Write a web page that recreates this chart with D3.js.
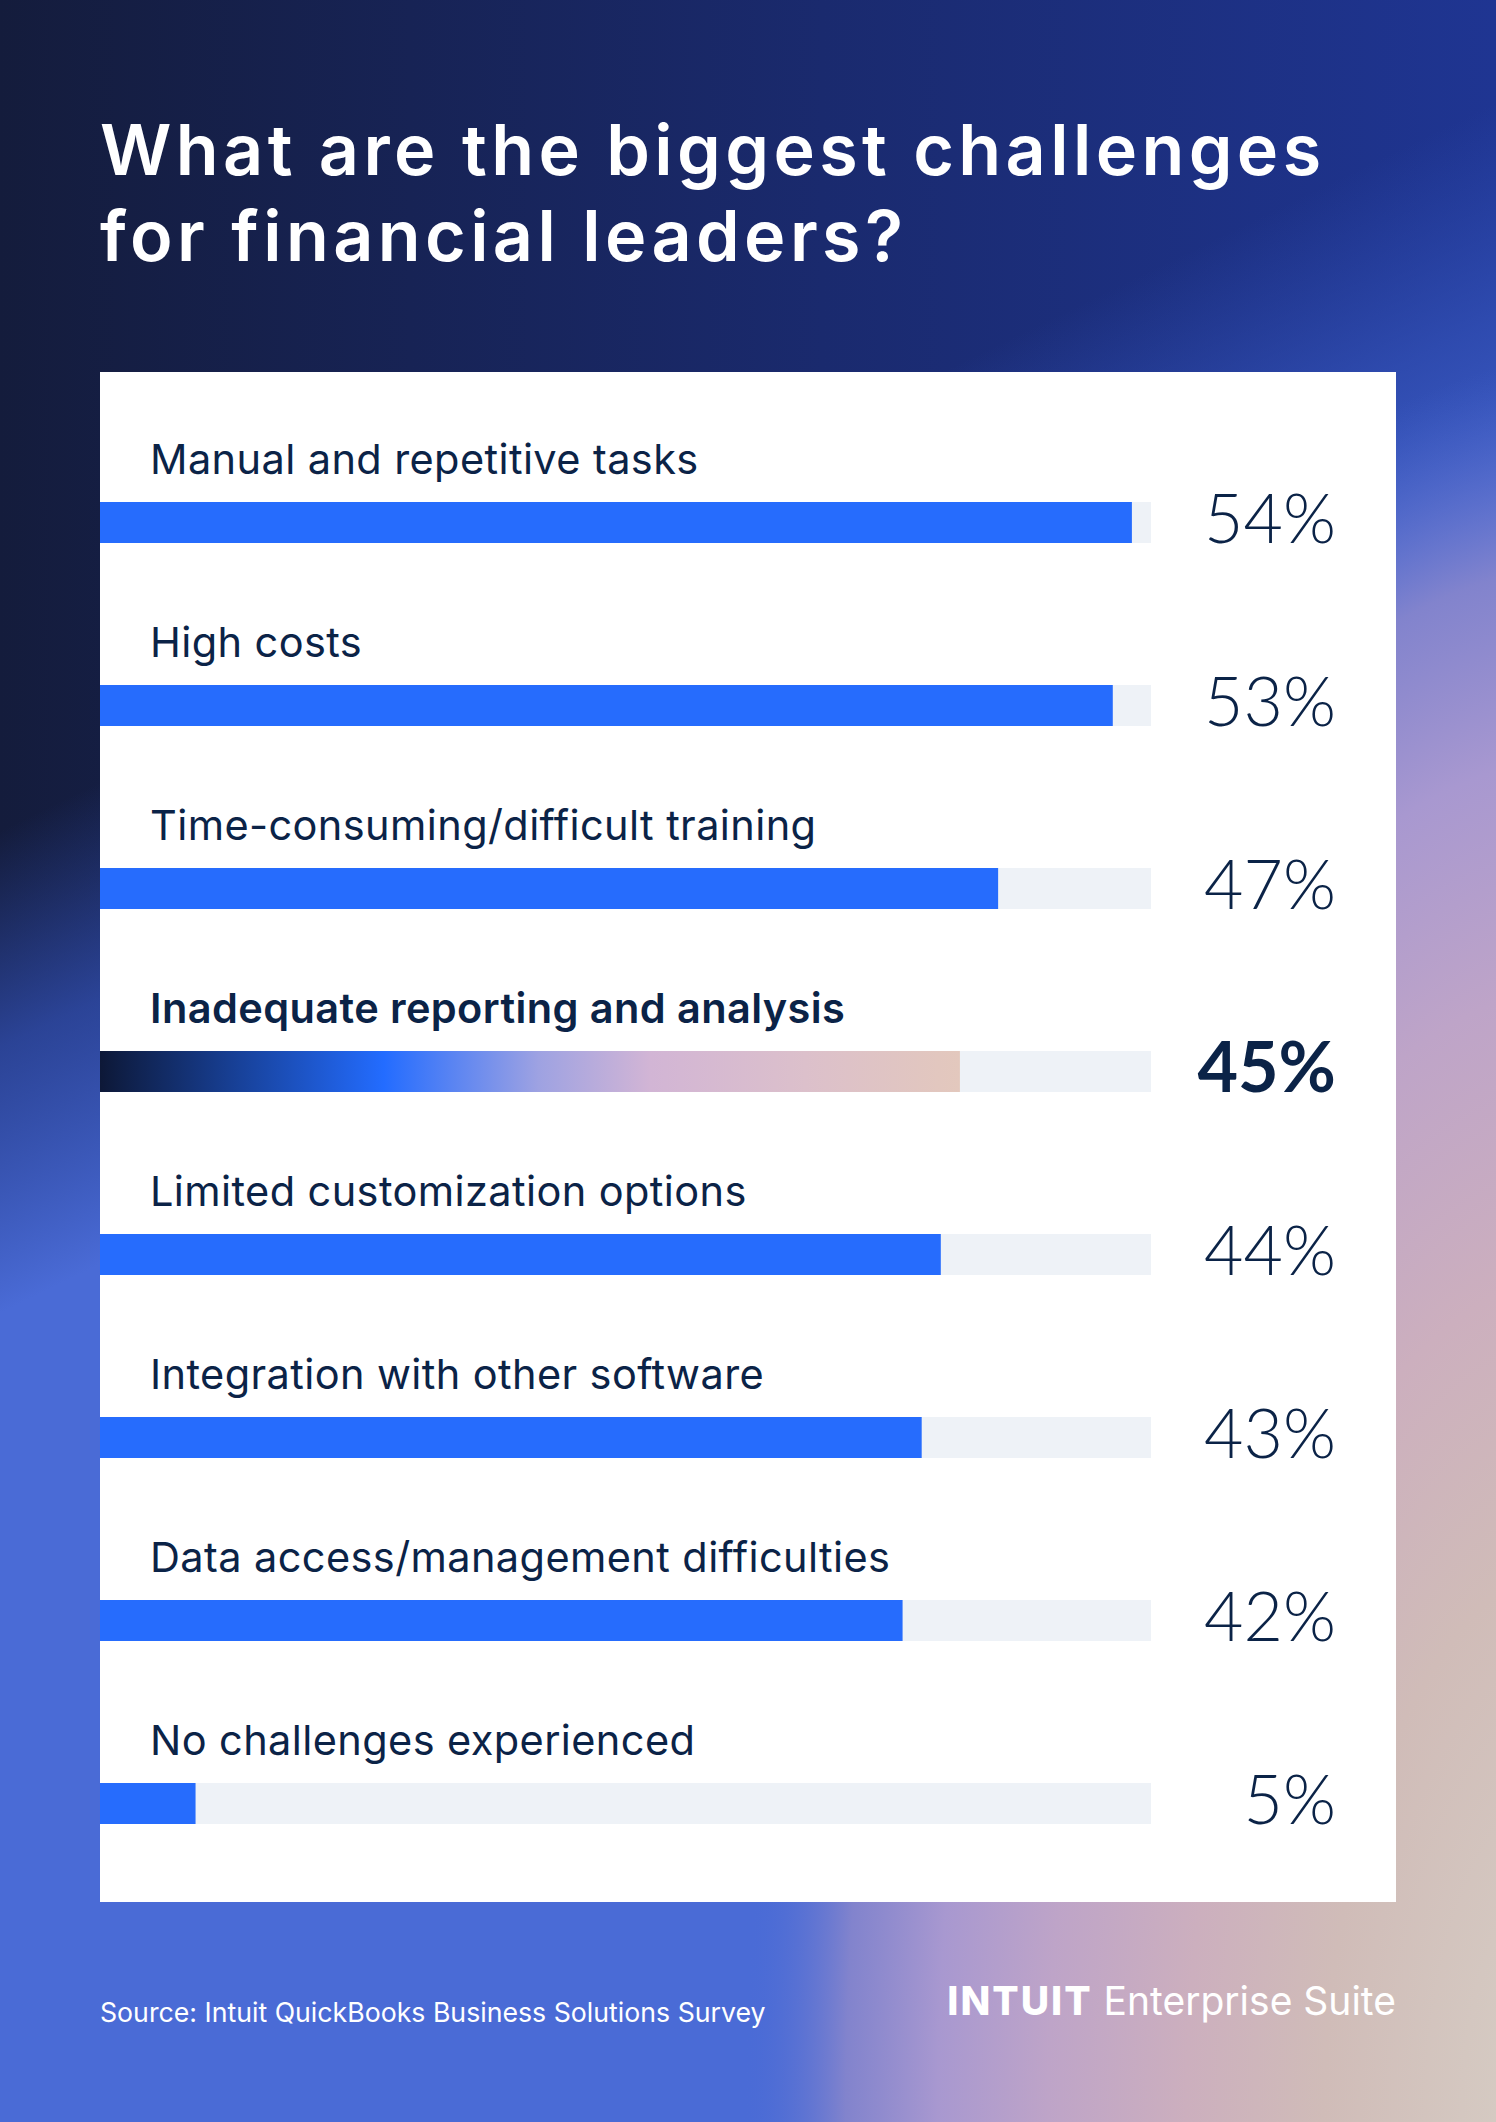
<!DOCTYPE html>
<html>
<head>
<meta charset="utf-8">
<script src="https://cdn.jsdelivr.net/npm/d3@7"></script>
<style>
  html, body { margin: 0; padding: 0; background: #141c3c; }
  svg { display: block; }
</style>
</head>
<body>
<div id="chart"></div>
<script>
// survey results
const categories = [
  "Manual and repetitive tasks",
  "High costs",
  "Time-consuming/difficult training",
  "Inadequate reporting and analysis",
  "Limited customization options",
  "Integration with other software",
  "Data access/management difficulties",
  "No challenges experienced"
];
const values = [54, 53, 47, 45, 44, 43, 42, 5];
const highlighted = ["Inadequate reporting and analysis"];
const titleLines = ["What are the biggest challenges", "for financial leaders?"];
const sourceText = "Source: Intuit QuickBooks Business Solutions Survey";

const width = 1496, height = 2122;
const ink = "#0b2347";
const barBlue = "#266cfd";
const trackGrey = "#eef2f7";
const font = "Inter, 'Open Sans', sans-serif";
const numFont = "Lato, 'Open Sans', sans-serif";

const svg = d3.select("#chart")
  .append("svg")
  .attr("width", width)
  .attr("height", height);

const defs = svg.append("defs");

// background: dark top-left -> blue, with a warm glow from the bottom right
const baseGrad = defs.append("linearGradient")
  .attr("id", "bgBase")
  .attr("gradientUnits", "userSpaceOnUse")
  .attr("x1", 0).attr("y1", 0).attr("x2", width).attr("y2", 0);
baseGrad.append("stop").attr("offset", 0).attr("stop-color", "#141c3c");
baseGrad.append("stop").attr("offset", 0.55).attr("stop-color", "#1a2a6e");
baseGrad.append("stop").attr("offset", 1).attr("stop-color", "#1f3592");

const blueGrad = defs.append("linearGradient")
  .attr("id", "bgBlue")
  .attr("gradientUnits", "userSpaceOnUse")
  .attr("x1", 330).attr("y1", 670).attr("x2", 520).attr("y2", 1060);
blueGrad.append("stop").attr("offset", 0).attr("stop-color", "#3150b8").attr("stop-opacity", 0);
blueGrad.append("stop").attr("offset", 0.45).attr("stop-color", "#3554bc").attr("stop-opacity", 0.7);
blueGrad.append("stop").attr("offset", 1).attr("stop-color", "#4a6bd6").attr("stop-opacity", 1);

const warmGrad = defs.append("radialGradient")
  .attr("id", "bgWarm")
  .attr("gradientUnits", "userSpaceOnUse")
  .attr("cx", 0).attr("cy", 0).attr("r", 1)
  .attr("gradientTransform", "translate(1600,2122) scale(920,1900)");
[
  [0, "#d8d2c8", 1],
  [0.3, "#d0bcb8", 1],
  [0.45, "#ccafbe", 1],
  [0.6, "#bea4c8", 1],
  [0.72, "#a898d0", 1],
  [0.82, "#8886cc", 0.9],
  [0.93, "#4a6bd6", 0]
].forEach(([o, c, a]) => {
  warmGrad.append("stop").attr("offset", o).attr("stop-color", c).attr("stop-opacity", a);
});

const hiGrad = defs.append("linearGradient")
  .attr("id", "hiBar")
  .attr("x1", 0).attr("y1", 0).attr("x2", 1).attr("y2", 0);
[
  [0, "#0d1837"],
  [0.33, "#236cff"],
  [0.51, "#9ea2e2"],
  [0.64, "#d2b5d5"],
  [0.82, "#dcc0cb"],
  [1, "#e3c8bd"]
].forEach(([o, c]) => hiGrad.append("stop").attr("offset", o).attr("stop-color", c));

svg.append("rect").attr("width", width).attr("height", height).attr("fill", "url(#bgBase)");
svg.append("rect").attr("width", width).attr("height", height).attr("fill", "url(#bgBlue)");
svg.append("rect").attr("width", width).attr("height", height).attr("fill", "url(#bgWarm)");

// title, one text per line
svg.append("g")
  .selectAll("text")
  .data(titleLines)
  .join("text")
  .attr("x", 100)
  .attr("y", (d, i) => 175 + i * 86)
  .attr("font-family", font)
  .attr("font-weight", 600)
  .attr("font-size", 70)
  .attr("letter-spacing", 4.4)
  .attr("fill", "#ffffff")
  .text(d => d);

// white card
const panel = { x: 100, y: 372, w: 1296, h: 1530 };
svg.append("rect")
  .attr("x", panel.x).attr("y", panel.y)
  .attr("width", panel.w).attr("height", panel.h)
  .attr("fill", "#ffffff");

const x = d3.scaleLinear().domain([0, 55]).range([100, 1151]);
const y = d3.scaleBand()
  .domain(categories)
  .range([502, 1824])
  .paddingInner(142 / 183)
  .paddingOuter(0);

const rows = svg.append("g")
  .selectAll("g")
  .data(categories.map((c, i) => ({ name: c, value: values[i], hi: highlighted.includes(c) })))
  .join("g");

rows.append("rect")
  .attr("x", x(0))
  .attr("y", d => y(d.name))
  .attr("width", x(55) - x(0))
  .attr("height", y.bandwidth())
  .attr("fill", trackGrey);

rows.append("rect")
  .attr("x", x(0))
  .attr("y", d => y(d.name))
  .attr("width", d => x(d.value) - x(0))
  .attr("height", y.bandwidth())
  .attr("fill", d => d.hi ? "url(#hiBar)" : barBlue);

rows.append("text")
  .attr("x", 150)
  .attr("y", d => y(d.name) - 28)
  .attr("font-family", font)
  .attr("font-size", 41.5)
  .attr("letter-spacing", 0.4)
  .attr("font-weight", d => d.hi ? 600 : 400)
  .attr("fill", ink)
  .text(d => d.name);

rows.append("text")
  .attr("x", 1336)
  .attr("y", d => y(d.name) + y.bandwidth())
  .attr("text-anchor", "end")
  .attr("font-family", numFont)
  .attr("font-size", d => d.hi ? 70 : 68)
  .attr("font-weight", d => d.hi ? 700 : 300)
  .attr("fill", ink)
  .text(d => d.value + "%");

// footer
svg.append("text")
  .attr("x", 100)
  .attr("y", 2022)
  .attr("font-family", font)
  .attr("font-size", 26.7)
  .attr("fill", "#ffffff")
  .text(sourceText);

const logo = svg.append("text")
  .attr("x", 1396)
  .attr("y", 2015)
  .attr("text-anchor", "end")
  .attr("font-family", font)
  .attr("font-size", 39)
  .attr("fill", "#ffffff");
logo.append("tspan")
  .attr("font-weight", 800)
  .attr("letter-spacing", 2)
  .text("INTUIT");
logo.append("tspan")
  .attr("font-weight", 400)
  .attr("letter-spacing", 0)
  .text(" Enterprise Suite");
</script>
</body>
</html>
